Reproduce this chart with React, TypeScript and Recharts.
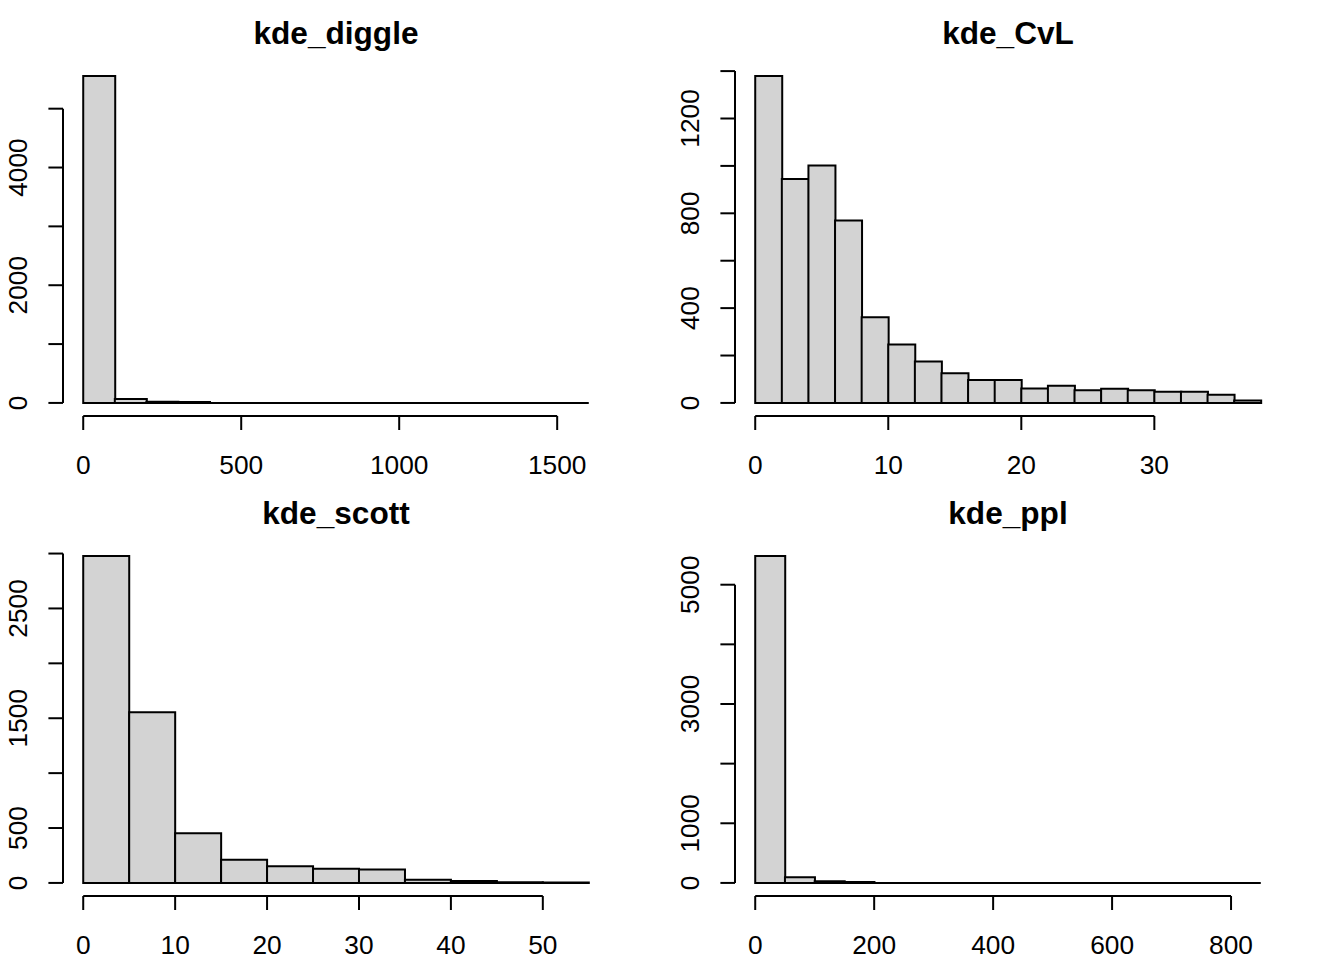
import React from 'react';
import { ComposedChart, Bar, XAxis, YAxis, ReferenceLine } from 'recharts';

const FONT = '"Liberation Sans", Arial, sans-serif';

// kde_diggle: bins of 100 from 0 to 1600
const diggleMids = [50, 150, 250, 350, 450, 550, 650, 750, 850, 950, 1050, 1150, 1250, 1350, 1450, 1550];
const diggleCounts = [5554, 65, 20, 14, 0, 0, 0, 0, 0, 0, 0, 0, 0, 0, 0, 0];
const diggleXTicks = [0, 500, 1000, 1500];
const diggleYTicks = [0, 1000, 2000, 3000, 4000, 5000];
const diggleYLabels = [0, 2000, 4000];

// kde_CvL: bins of 2 from 0 to 38
const cvlMids = [1, 3, 5, 7, 9, 11, 13, 15, 17, 19, 21, 23, 25, 27, 29, 31, 33, 35, 37];
const cvlCounts = [1379, 945, 1002, 770, 361, 246, 175, 125, 97, 97, 61, 72, 54, 60, 54, 47, 47, 34, 10];
const cvlXTicks = [0, 10, 20, 30];
const cvlYTicks = [0, 200, 400, 600, 800, 1000, 1200, 1400];
const cvlYLabels = [0, 400, 800, 1200];

// kde_scott: bins of 5 from 0 to 55
const scottMids = [2.5, 7.5, 12.5, 17.5, 22.5, 27.5, 32.5, 37.5, 42.5, 47.5, 52.5];
const scottCounts = [2977, 1555, 452, 210, 151, 129, 123, 28, 17, 6, 3];
const scottXTicks = [0, 10, 20, 30, 40, 50];
const scottYTicks = [0, 500, 1000, 1500, 2000, 2500, 3000];
const scottYLabels = [0, 500, 1500, 2500];

// kde_ppl: bins of 50 from 0 to 850
const pplMids = [25, 75, 125, 175, 225, 275, 325, 375, 425, 475, 525, 575, 625, 675, 725, 775, 825];
const pplCounts = [5480, 95, 28, 17, 0, 0, 0, 0, 0, 0, 0, 0, 0, 0, 0, 0, 0];
const pplXTicks = [0, 200, 400, 600, 800];
const pplYTicks = [0, 1000, 2000, 3000, 4000, 5000];
const pplYLabels = [0, 1000, 3000, 5000];

const XTick = (props: any) => {
  const { x, y, payload } = props;
  return (
    <g>
      <line x1={x} y1={y} x2={x} y2={y + 14} stroke="#000" strokeWidth={2} />
      <text x={x} y={y + 58} textAnchor="middle" fontSize={26.3} fontFamily={FONT} fill="#000">
        {payload.value}
      </text>
    </g>
  );
};

const YTick = (props: any) => {
  const { x, y, payload, labels } = props;
  const show = labels.includes(payload.value);
  return (
    <g>
      <line x1={x - 14.6} y1={y} x2={x} y2={y} stroke="#000" strokeWidth={2} />
      {show && (
        <text
          x={x - 35.6}
          y={y}
          transform={`rotate(-90, ${x - 35.6}, ${y})`}
          textAnchor="middle"
          fontSize={26.3}
          fontFamily={FONT}
          fill="#000"
        >
          {payload.value}
        </text>
      )}
    </g>
  );
};

function Hist({ title, mids, counts, binWidth, xTicks, yTicks, yLabels, left, top }: any) {
  const lo = mids[0] - binWidth / 2;
  const hi = mids[mids.length - 1] + binWidth / 2;
  const xPad = (hi - lo) * 0.04;
  const yMax = Math.max(...counts);
  const yMin = -0.04 * yMax;
  const xMin = lo - xPad;
  const data = mids.map((m: number, i: number) => ({ mid: m, count: counts[i] }));

  return (
    <div style={{ position: 'absolute', left, top, width: 672, height: 480 }}>
      <div
        style={{
          position: 'absolute',
          left: 63,
          top: 15,
          width: 546,
          textAlign: 'center',
          fontFamily: FONT,
          fontWeight: 'bold',
          fontSize: 31.6,
          zIndex: 2,
        }}
      >
        {title}
      </div>
      <ComposedChart
        width={672}
        height={480}
        data={data}
        margin={{ top: 63, right: 63, bottom: 4, left: 3 }}
        barCategoryGap={0}
        barGap={0}
      >
        <XAxis
          dataKey="mid"
          type="number"
          domain={[xMin, hi + xPad]}
          allowDataOverflow
          ticks={xTicks}
          interval={0}
          axisLine={false}
          tickLine={false}
          tickSize={0}
          tickMargin={0}
          height={60}
          tick={<XTick />}
        />
        <YAxis
          type="number"
          domain={[yMin, 1.04 * yMax]}
          allowDataOverflow
          ticks={yTicks}
          interval={0}
          axisLine={false}
          tickLine={false}
          tickSize={0}
          tickMargin={0}
          width={60}
          tick={<YTick labels={yLabels} />}
        />
        <Bar dataKey="count" fill="#d3d3d3" stroke="#000" strokeWidth={2} isAnimationActive={false} />
        <ReferenceLine segment={[{ x: lo, y: 0 }, { x: hi, y: 0 }]} stroke="#000" strokeWidth={2} />
        <ReferenceLine
          segment={[{ x: xTicks[0], y: yMin }, { x: xTicks[xTicks.length - 1], y: yMin }]}
          stroke="#000"
          strokeWidth={2}
          ifOverflow="visible"
        />
        <ReferenceLine
          segment={[{ x: xMin, y: yTicks[0] }, { x: xMin, y: yTicks[yTicks.length - 1] }]}
          stroke="#000"
          strokeWidth={2}
          ifOverflow="visible"
        />
      </ComposedChart>
    </div>
  );
}

export default function App() {
  return (
    <div style={{ position: 'relative', width: 1344, height: 960, background: '#fff' }}>
      <style>{`body{margin:0;}`}</style>
      <Hist title="kde_diggle" mids={diggleMids} counts={diggleCounts} binWidth={100}
        xTicks={diggleXTicks} yTicks={diggleYTicks} yLabels={diggleYLabels} left={0} top={0} />
      <Hist title="kde_CvL" mids={cvlMids} counts={cvlCounts} binWidth={2}
        xTicks={cvlXTicks} yTicks={cvlYTicks} yLabels={cvlYLabels} left={672} top={0} />
      <Hist title="kde_scott" mids={scottMids} counts={scottCounts} binWidth={5}
        xTicks={scottXTicks} yTicks={scottYTicks} yLabels={scottYLabels} left={0} top={480} />
      <Hist title="kde_ppl" mids={pplMids} counts={pplCounts} binWidth={50}
        xTicks={pplXTicks} yTicks={pplYTicks} yLabels={pplYLabels} left={672} top={480} />
    </div>
  );
}
